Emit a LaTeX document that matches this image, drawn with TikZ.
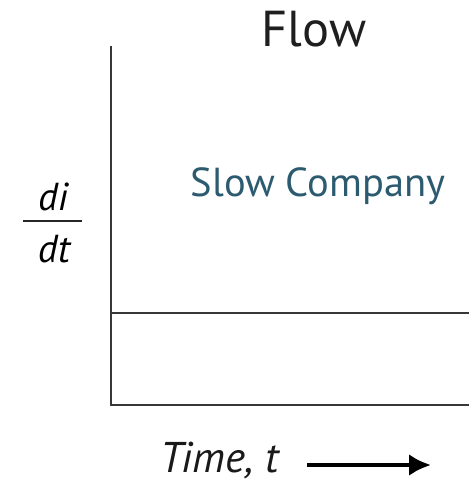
\documentclass[tikz,border=0pt]{standalone}
\usepackage{fontspec}
\usetikzlibrary{arrows.meta}
\setmainfont{PT Sans}
\definecolor{teal1}{RGB}{44,91,112}
\definecolor{axisgray}{RGB}{55,55,55}
\begin{document}
\begin{tikzpicture}[x=1pt,y=-1pt,
  axis/.style={draw=axisgray,line width=2pt},
  lbl/.style={inner sep=0pt,anchor=base},
]
\useasboundingbox (0,0) rectangle (469,482);
\coordinate (top) at (111,46);
\coordinate (origin) at (111,405);
\coordinate (xend) at (469,405);
\coordinate (lvl0) at (111,312.5);
\coordinate (lvl1) at (469,312.5);
\draw[axis] (top) -- (origin) -- (xend);
\draw[axis] (lvl0) -- (lvl1);
\node[lbl,font=\fontsize{50.5}{54}\selectfont,text=black!88] (flow) at (314,46) {Flow};
\node[lbl,font=\fontsize{40.5}{44}\selectfont,text=teal1] (slow) at (318,196) {Slow Company};
\node[lbl,font=\itshape\fontsize{39}{42}\selectfont] (di) at (53,210) {di};
\node[lbl,font=\itshape\fontsize{39}{42}\selectfont] (dt) at (54,262) {dt};
\coordinate (fl) at (23,220.5);
\coordinate (fr) at (82,220.5);
\draw[draw=black!85,line width=2pt] (fl) -- (fr);
\node[lbl,font=\itshape\fontsize{43}{46}\selectfont,text=black!90] (time) at (219.5,472.5) {Time, t};
\coordinate (a0) at (307,465);
\coordinate (a1) at (431,465);
\draw[line width=4.5pt,-{Latex[length=22pt,width=22pt]}] (a0) -- (a1);
\end{tikzpicture}
\end{document}
